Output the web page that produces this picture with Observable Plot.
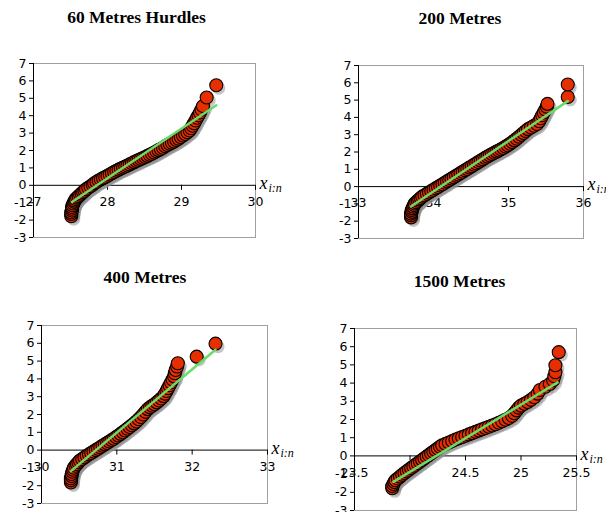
<!DOCTYPE html>
<html>
<head>
<meta charset="utf-8">
<script src="https://cdn.jsdelivr.net/npm/d3@7"></script>
<script src="https://cdn.jsdelivr.net/npm/@observablehq/plot@0.6"></script>
<style>
  html, body { margin: 0; padding: 0; background: #fff; }
  #root { position: relative; width: 606px; height: 512px; overflow: hidden; }
  .title { position: absolute; width: 240px; text-align: center; font-family: "Liberation Serif", serif; font-weight: bold; font-size: 17.5px; line-height: 20px; color: #000; white-space: nowrap; }
  .panel { position: absolute; }
</style>
</head>
<body>
<div id="root"></div>
<script>
// ---------- data ----------
const titles = ["60 Metres Hurdles", "200 Metres", "400 Metres", "1500 Metres"];
const yTicks = [-3, -2, -1, 0, 1, 2, 3, 4, 5, 6, 7];

// 60 Metres Hurdles
const hurdlesX = [27.51,27.51,27.51,27.52,27.52,27.52,27.53,27.54,27.55,27.56,27.57,27.59,27.61,27.63,27.65,27.67,27.69,27.71,27.74,27.77,27.80,27.82,27.85,27.88,27.91,27.94,27.97,28.00,28.03,28.06,28.09,28.12,28.15,28.18,28.21,28.24,28.27,28.30,28.33,28.36,28.39,28.42,28.45,28.48,28.51,28.54,28.57,28.60,28.63,28.66,28.69,28.72,28.75,28.78,28.81,28.84,28.87,28.90,28.93,28.96,28.99,29.02,29.05,29.08,29.11,29.13,29.15,29.17,29.19,29.21,29.23,29.25,29.27,29.29,29.34,29.47];
const hurdlesY = [-1.78,-1.65,-1.55,-1.45,-1.35,-1.25,-1.15,-1.05,-0.95,-0.87,-0.79,-0.71,-0.63,-0.55,-0.47,-0.39,-0.31,-0.23,-0.14,-0.06,0.03,0.11,0.19,0.27,0.34,0.41,0.48,0.55,0.62,0.69,0.76,0.83,0.9,0.96,1.02,1.08,1.14,1.2,1.27,1.33,1.39,1.45,1.51,1.57,1.63,1.69,1.75,1.81,1.88,1.95,2.02,2.09,2.16,2.24,2.31,2.38,2.45,2.52,2.6,2.68,2.77,2.86,2.95,3.05,3.15,3.28,3.42,3.56,3.72,3.88,4.02,4.18,4.35,4.55,5.05,5.75];
const hurdlesFitX = [27.52, 29.47];
const hurdlesFitY = [-0.96, 4.6];
const hurdlesTicks = [27, 28, 29, 30];
const hurdlesLabels = [27, 28, 29, 30];

// 200 Metres
const m200X = [33.70,33.70,33.70,33.71,33.71,33.72,33.73,33.74,33.75,33.77,33.79,33.81,33.83,33.85,33.88,33.91,33.94,33.97,34.00,34.03,34.06,34.09,34.12,34.15,34.18,34.21,34.24,34.27,34.30,34.33,34.36,34.39,34.42,34.45,34.48,34.51,34.54,34.57,34.60,34.63,34.66,34.69,34.72,34.75,34.78,34.81,34.84,34.87,34.90,34.93,34.96,34.99,35.02,35.05,35.08,35.11,35.14,35.17,35.20,35.23,35.26,35.30,35.34,35.38,35.41,35.43,35.45,35.47,35.49,35.51,35.52,35.79,35.79];
const m200Y = [-1.78,-1.66,-1.56,-1.46,-1.36,-1.26,-1.16,-1.07,-0.98,-0.9,-0.82,-0.74,-0.66,-0.58,-0.5,-0.42,-0.34,-0.26,-0.18,-0.1,-0.02,0.06,0.14,0.22,0.3,0.38,0.46,0.54,0.62,0.7,0.78,0.86,0.94,1.02,1.1,1.18,1.26,1.34,1.42,1.5,1.58,1.66,1.74,1.81,1.88,1.95,2.02,2.09,2.16,2.23,2.31,2.39,2.48,2.57,2.67,2.77,2.88,2.99,3.1,3.21,3.32,3.42,3.52,3.62,3.78,3.95,4.12,4.28,4.45,4.62,4.78,5.18,5.9];
const m200FitX = [33.70, 35.79];
const m200FitY = [-1.15, 4.94];
const m200Ticks = [33, 34, 35, 36];
const m200Labels = [33, 34, 35, 36];

// 400 Metres
const m400X = [30.39,30.39,30.39,30.40,30.40,30.41,30.42,30.43,30.45,30.47,30.49,30.51,30.54,30.57,30.60,30.63,30.66,30.69,30.72,30.75,30.78,30.81,30.84,30.87,30.90,30.93,30.96,30.99,31.02,31.05,31.08,31.11,31.14,31.17,31.20,31.23,31.26,31.29,31.32,31.35,31.38,31.41,31.44,31.47,31.50,31.53,31.56,31.59,31.62,31.64,31.66,31.68,31.70,31.72,31.74,31.76,31.77,31.78,31.80,31.81,32.06,32.31];
const m400Y = [-1.82,-1.7,-1.58,-1.46,-1.34,-1.22,-1.1,-0.99,-0.88,-0.78,-0.68,-0.59,-0.5,-0.41,-0.32,-0.24,-0.16,-0.08,0.0,0.08,0.16,0.24,0.32,0.4,0.48,0.56,0.64,0.73,0.82,0.91,1.0,1.1,1.2,1.3,1.4,1.5,1.61,1.73,1.86,2.0,2.15,2.3,2.4,2.49,2.58,2.68,2.79,2.9,3.03,3.17,3.32,3.48,3.64,3.8,3.97,4.14,4.32,4.5,4.7,4.88,5.25,5.98];
const m400FitX = [30.39, 32.31];
const m400FitY = [-1.18, 5.64];
const m400Ticks = [30, 31, 32, 33];
const m400Labels = [30, 31, 32, 33];

// 1500 Metres
const m1500X = [23.84,23.84,23.85,23.86,23.87,23.89,23.91,23.93,23.95,23.97,23.99,24.01,24.03,24.05,24.07,24.09,24.11,24.13,24.15,24.17,24.19,24.21,24.23,24.25,24.27,24.29,24.32,24.35,24.38,24.41,24.44,24.47,24.50,24.53,24.56,24.59,24.62,24.65,24.68,24.71,24.74,24.77,24.80,24.83,24.86,24.89,24.92,24.94,24.96,24.98,25.00,25.03,25.06,25.09,25.12,25.15,25.17,25.22,25.26,25.29,25.30,25.31,25.31,25.34];
const m1500Y = [-1.78,-1.66,-1.55,-1.44,-1.34,-1.24,-1.14,-1.04,-0.94,-0.85,-0.76,-0.67,-0.58,-0.49,-0.4,-0.31,-0.22,-0.13,-0.04,0.05,0.14,0.23,0.32,0.41,0.5,0.58,0.66,0.74,0.82,0.9,0.97,1.04,1.11,1.18,1.25,1.32,1.39,1.46,1.53,1.6,1.67,1.74,1.82,1.9,1.99,2.08,2.2,2.34,2.5,2.65,2.76,2.86,2.96,3.08,3.22,3.42,3.62,3.8,3.95,4.15,4.38,4.6,4.98,5.7];
const m1500FitX = [23.85, 25.33];
const m1500FitY = [-1.43, 4.04];
const m1500Ticks = [23.5, 24, 24.5, 25, 25.5];
const m1500Labels = [23.5, 24.5, 25, 25.5];

// ---------- layout ----------
const panels = [
  {title: titles[0], xs: hurdlesX, ys: hurdlesY, fx: hurdlesFitX, fy: hurdlesFitY, ticks: hurdlesTicks, labels: hurdlesLabels,
   box: {left: 0, width: 300, pl: 33, pr: 255, pt: 63, pb: 237}, tcx: 136.5, tty: 7},
  {title: titles[1], xs: m200X, ys: m200Y, fx: m200FitX, fy: m200FitY, ticks: m200Ticks, labels: m200Labels,
   box: {left: 300, width: 306, pl: 358, pr: 583, pt: 65, pb: 238}, tcx: 460, tty: 8},
  {title: titles[2], xs: m400X, ys: m400Y, fx: m400FitX, fy: m400FitY, ticks: m400Ticks, labels: m400Labels,
   box: {left: 0, width: 300, pl: 41, pr: 267, pt: 325, pb: 503}, tcx: 145, tty: 266.5},
  {title: titles[3], xs: m1500X, ys: m1500Y, fx: m1500FitX, fy: m1500FitY, ticks: m1500Ticks, labels: m1500Labels,
   box: {left: 300, width: 306, pl: 354, pr: 576, pt: 328, pb: 510}, tcx: 459.5, tty: 271}
];

const root = document.getElementById("root");
const axisFont = "DejaVu Sans, Verdana, sans-serif";

panels.forEach(p => {
  const b = p.box;
  const mt = 14, mb = 12;
  const plotH = b.pb - b.pt;
  const pts = p.xs.map((x, i) => ({x, y: p.ys[i]}));
  const fit = p.fx.map((x, i) => ({x, y: p.fy[i]}));
  const xDom = [p.ticks[0], p.ticks[p.ticks.length - 1]];
  const labelSet = new Set(p.labels);
  const axisShift = plotH * (0 - (-3)) / 10; // pixels from bottom to y=0

  const svg = Plot.plot({
    width: b.width,
    height: plotH + mt + mb,
    marginLeft: b.pl - b.left,
    marginRight: b.width - (b.pr - b.left),
    marginTop: mt,
    marginBottom: mb,
    style: {fontFamily: axisFont, fontSize: "12px", background: "transparent", overflow: "visible"},
    x: {domain: xDom},
    y: {domain: [-3, 7]},
    marks: [
      Plot.frame({stroke: "#a0a0a0"}),
      Plot.axisY({ticks: yTicks, tickSize: 4, tickPadding: 3, label: null, fontSize: 12.5, fill: "#000", stroke: "#000",
                  tickFormat: d => String(d)}),
      Plot.axisX({ticks: p.ticks, anchor: "bottom", dy: -axisShift, tickSize: 5, tickPadding: 7, label: null, fontSize: 12.5,
                  tickFormat: d => labelSet.has(d) ? String(d) : ""}),
      Plot.ruleX([xDom[0]], {stroke: "#000", strokeWidth: 1}),
      Plot.ruleY([0], {stroke: "#000", strokeWidth: 1}),
      Plot.dot(pts, {x: "x", y: "y", r: 6.5, fill: "#8c8c8c", fillOpacity: 0.5, dx: 2.5, dy: 3, stroke: null}),
      Plot.dot(pts, {x: "x", y: "y", r: 6.5, fill: "#e62e00", stroke: "#000", strokeWidth: 1.1}),
      Plot.line(fit, {x: "x", y: "y", stroke: "#66dd66", strokeWidth: 2.5}),
      Plot.text([xDom[1]], {x: d => d, y: 0, text: () => "x", textAnchor: "start", dx: 4, dy: -2,
                            fontFamily: "Liberation Serif, serif", fontStyle: "italic", fontSize: 18, fill: "#000"}),
      Plot.text([xDom[1]], {x: d => d, y: 0, text: () => "i:n", textAnchor: "start", dx: 13, dy: 3,
                            fontFamily: "Liberation Serif, serif", fontStyle: "italic", fontSize: 12, fill: "#000"})
    ]
  });
  const wrap = document.createElement("div");
  wrap.className = "panel";
  wrap.style.left = b.left + "px";
  wrap.style.top = (b.pt - mt) + "px";
  wrap.appendChild(svg);
  root.appendChild(wrap);

  const t = document.createElement("div");
  t.className = "title";
  t.textContent = p.title;
  t.style.left = (p.tcx - 120) + "px";
  t.style.top = p.tty + "px";
  root.appendChild(t);
});
</script>
</body>
</html>
